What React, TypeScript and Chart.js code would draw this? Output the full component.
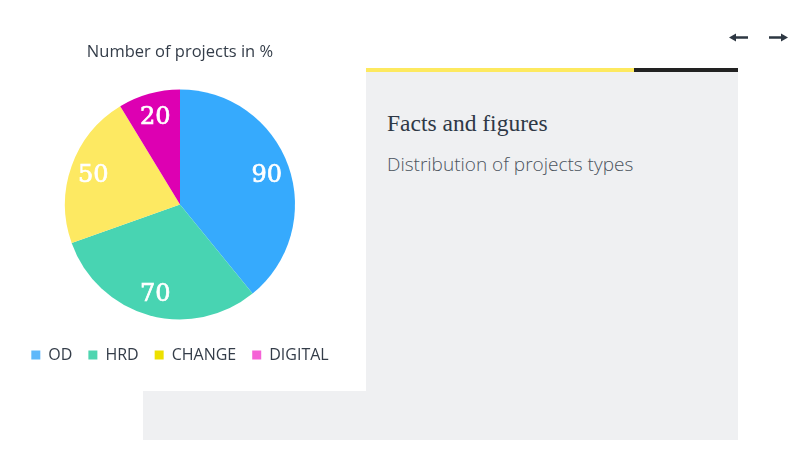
import React, { useEffect, useRef } from "react";
import { Chart, registerables } from "chart.js";

Chart.register(...registerables);

const categories = ["OD", "HRD", "CHANGE", "DIGITAL"];
const values = [90, 70, 50, 20];
const sliceColors = ["#36aafd", "#48d4b2", "#fde962", "#dd00b2"];
const legendColors = ["#5fb8fa", "#4fd5b0", "#ede000", "#f562d6"];
const chartTitle = "Number of projects in %";
const panelTitle = "Facts and figures";
const panelSubtitle = "Distribution of projects types";

const sliceLabels = {
  id: "sliceLabels",
  afterDatasetsDraw(chart: any) {
    const ctx = chart.ctx;
    const meta = chart.getDatasetMeta(0);
    ctx.save();
    ctx.fillStyle = "#ffffff";
    ctx.strokeStyle = "#ffffff";
    ctx.lineWidth = 0.7;
    ctx.font = "24px 'DejaVu Serif', serif";
    ctx.textAlign = "center";
    ctx.textBaseline = "middle";
    meta.data.forEach((arc: any, i: number) => {
      const p = arc.getProps(["x", "y", "startAngle", "endAngle", "outerRadius"], true);
      const mid = (p.startAngle + p.endAngle) / 2;
      const r = p.outerRadius * 0.8;
      const tx = p.x + Math.cos(mid) * r;
      const ty = p.y + Math.sin(mid) * r + 2;
      ctx.fillText(String(values[i]), tx, ty);
      ctx.strokeText(String(values[i]), tx, ty);
    });
    ctx.restore();
  },
};

function PieChart() {
  const ref = useRef<HTMLCanvasElement | null>(null);
  useEffect(() => {
    if (!ref.current) return;
    const chart = new Chart(ref.current, {
      type: "pie",
      data: {
        labels: categories,
        datasets: [
          {
            data: values,
            backgroundColor: sliceColors,
            borderWidth: 0,
            radius: 115,
          },
        ],
      },
      options: {
        animation: false,
        responsive: false,
        maintainAspectRatio: false,
        layout: { padding: { top: 30, bottom: 18, left: 0, right: 0 } },
        plugins: {
          tooltip: { enabled: false },
          title: {
            display: true,
            text: chartTitle,
            color: "#343d49",
            font: { family: "'Open Sans', sans-serif", size: 16.5, weight: "normal" },
            padding: { top: 12, bottom: 16 },
          },
          legend: {
            display: true,
            position: "bottom",
            labels: {
              boxWidth: 9,
              boxHeight: 9,
              padding: 16,
              color: "#343d49",
              font: { family: "'Open Sans', sans-serif", size: 16 },
              generateLabels: () =>
                categories.map((c, i) => ({
                  text: c,
                  fillStyle: legendColors[i],
                  strokeStyle: legendColors[i],
                  lineWidth: 0,
                  hidden: false,
                  index: i,
                  fontColor: "#343d49",
                })),
            },
          },
        },
      },
      plugins: [sliceLabels],
    });
    return () => chart.destroy();
  }, []);
  return <canvas ref={ref} width={360} height={391} style={{ display: "block", width: 360, height: 391 }} />;
}

export default function App() {
  return (
    <div style={{ position: "fixed", left: 0, top: 0, width: 807, height: 468, background: "#ffffff", overflow: "hidden" }}>
      <div style={{ position: "absolute", left: 143, top: 72, width: 595, height: 368, background: "#eff0f2" }} />
      <div style={{ position: "absolute", left: 366, top: 68, width: 268, height: 4, background: "#fde95f" }} />
      <div style={{ position: "absolute", left: 634, top: 68, width: 104, height: 4, background: "#222222" }} />
      <div
        style={{
          position: "absolute",
          left: 387,
          top: 110,
          fontFamily: "'Liberation Serif', serif",
          fontSize: 23.5,
          color: "#2e3846",
          whiteSpace: "nowrap",
        }}
      >
        {panelTitle}
      </div>
      <div
        style={{
          position: "absolute",
          left: 387,
          top: 151,
          fontFamily: "'Open Sans', sans-serif",
          fontWeight: 300,
          fontSize: 19,
          color: "#4b535d",
          whiteSpace: "nowrap",
        }}
      >
        {panelSubtitle}
      </div>
      <svg style={{ position: "absolute", left: 0, top: 0 }} width={807} height={468}>
        <line x1={734} y1={37.5} x2={748} y2={37.5} stroke="#2d3742" strokeWidth={2.5} />
        <polygon points="729,37.5 736,33.5 736,41.5" fill="#2d3742" />
        <line x1={769} y1={37.5} x2={783} y2={37.5} stroke="#2d3742" strokeWidth={2.5} />
        <polygon points="788,37.5 781,33.5 781,41.5" fill="#2d3742" />
      </svg>
      <div style={{ position: "absolute", left: 0, top: 0, width: 366, height: 391, background: "#ffffff" }}>
        <PieChart />
      </div>
    </div>
  );
}
